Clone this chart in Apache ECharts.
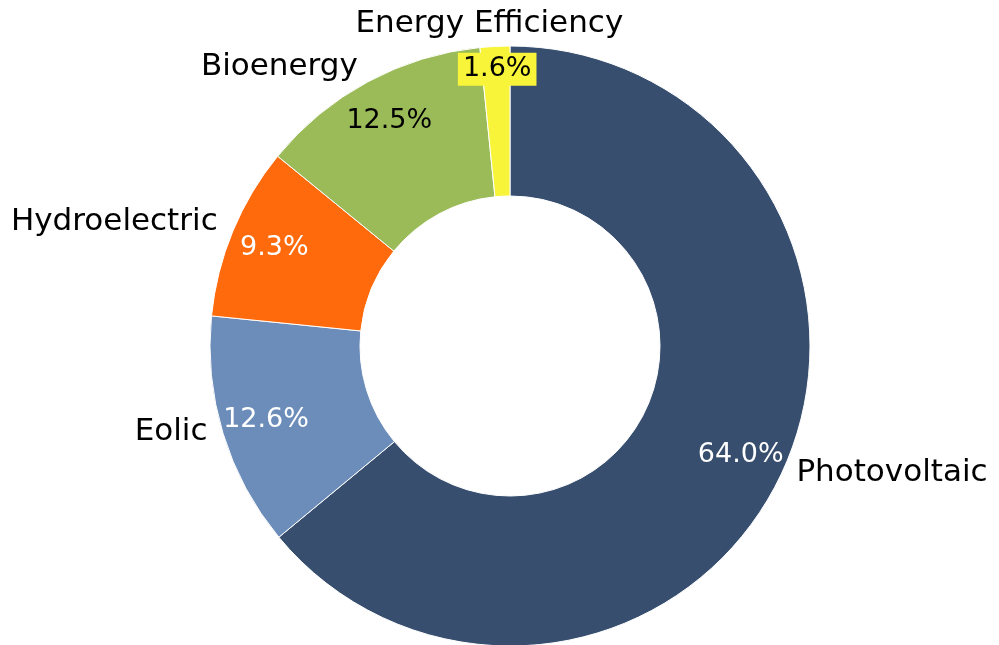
<!DOCTYPE html>
<html>
<head>
<meta charset="utf-8">
<script src="https://cdn.jsdelivr.net/npm/echarts@6/dist/echarts.min.js"></script>
<style>
  html, body { margin: 0; padding: 0; background: #fff; }
  #main { width: 999px; height: 645px; }
</style>
</head>
<body>
<div id="main"></div>
<script>
// categories and shares (%), clockwise from 12 o'clock
var categories = ['Photovoltaic', 'Eolic', 'Hydroelectric', 'Bioenergy', 'Energy Efficiency'];
var shares = [64.0, 12.6, 9.3, 12.5, 1.6];
var palette = ['#374e6f', '#6c8dba', '#ff6a0c', '#9bbb59', '#f8f43a'];
var pctColors = ['#ffffff', '#ffffff', '#ffffff', '#000000', '#000000'];

var font = 'DejaVu Sans';
var myChart = echarts.init(document.getElementById('main'));

var sliceData = categories.map(function (name, i) {
    return { name: name, value: shares[i], itemStyle: { color: palette[i] } };
});

var pctData = categories.map(function (name, i) {
    var lbl = { color: pctColors[i] };
    if (i === 4) {
        lbl.backgroundColor = palette[i];
        lbl.padding = [4, 5, 2, 5];
    }
    return { name: name, value: shares[i], label: lbl };
});

option = {
    backgroundColor: '#ffffff',
    animation: false,
    series: [{
        name: 'slices',
        type: 'pie',
        center: [510, 346],
        radius: [150, 300],
        startAngle: 90,
        clockwise: true,
        avoidLabelOverlap: false,
        itemStyle: { borderColor: '#ffffff', borderWidth: 1 },
        label: {
            show: true,
            position: 'outside',
            formatter: '{b}',
            fontFamily: font,
            fontSize: 31,
            color: '#000000',
            overflow: 'none'
        },
        labelLine: { show: false, length: 11, length2: 0 },
        labelLayout: function (p) {
            if (p.dataIndex === 4) {
                return { align: 'center', dy: -11 };
            }
            return { dy: -5 };
        },
        data: sliceData
    }, {
        // overlay only for the percentage labels
        name: 'pct',
        type: 'pie',
        silent: true,
        center: [510, 346],
        radius: [204, 300],
        startAngle: 90,
        clockwise: true,
        itemStyle: { color: 'rgba(0,0,0,0)' },
        label: {
            show: true,
            position: 'inside',
            fontFamily: font,
            fontSize: 27,
            formatter: function (p) { return p.value.toFixed(1) + '%'; }
        },
        labelLine: { show: false },
        labelLayout: function (p) {
            if (p.dataIndex === 4) {
                return { dy: -22 };
            }
        },
        data: pctData
    }]
};

myChart.setOption(option);
</script>
</body>
</html>
